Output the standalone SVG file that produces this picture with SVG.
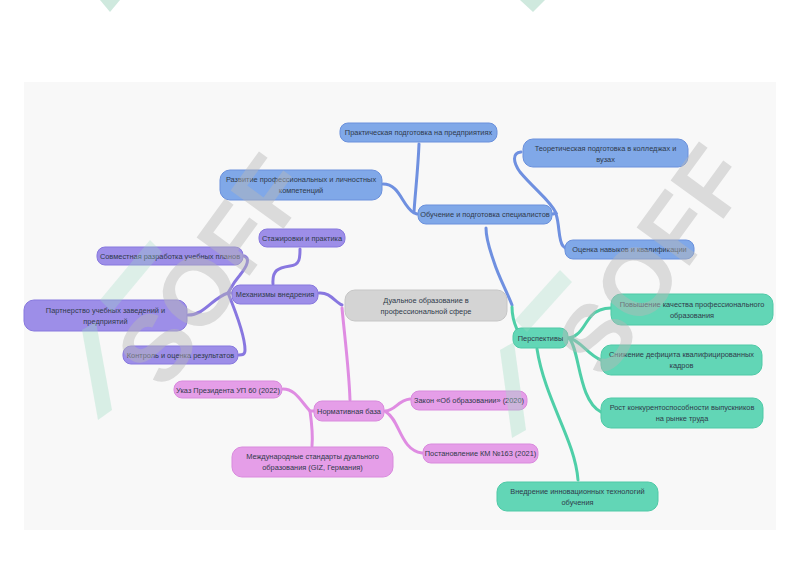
<svg xmlns="http://www.w3.org/2000/svg" width="800" height="565" viewBox="0 0 800 565">
<defs>
<style>
text{font-family:"Liberation Sans",Arial,sans-serif;font-size:7.4px;fill:#2f3a4a;text-anchor:middle}
.blue rect{fill:#80a8e8;stroke:#6a90dc;stroke-width:1}
.purple rect{fill:#9d8ee8;stroke:#8778de;stroke-width:1}
.pink rect{fill:#e59ee8;stroke:#d98add;stroke-width:1}
.green rect{fill:#62d6b6;stroke:#4ec9a6;stroke-width:1}
.center rect{fill:#d4d4d4;stroke:#c6c6c6;stroke-width:1}
.c{fill:none;stroke-width:3;stroke-linecap:round}
.cb{stroke:#6f90e0}.cp{stroke:#8877e0}.ck{stroke:#df8ce2}.cg{stroke:#4fcfa8}
.wm{font-family:"Liberation Sans",Arial,sans-serif;font-weight:bold;font-size:95px;fill:#b8b8b8;opacity:0.45;text-anchor:start}
</style>
</defs>
<rect width="800" height="565" fill="#ffffff"/>
<rect x="24" y="82" width="752" height="448" fill="#f8f8f8"/>
<polygon points="100,0 120,0 110,12" fill="#cfe9de"/>
<polygon points="520,0 545,0 533,12" fill="#cfe9de"/>

<g id="connectors">
<path class="c cb" d="M512,305 C506,290 498,275 494,262 C490,250 486,240 486,228"/>
<path class="c cb" d="M419,144 C418,170 415,195 414,212"/>
<path class="c cb" d="M383,184 C400,184 402,206 414,213 L417,214"/>
<path class="c cb" d="M521,152 C512,153 513,162 520,172 C535,190 550,200 556,213 L553,214"/>
<path class="c cb" d="M556,214 C560,226 558,240 563,246 C566,249 568,249 566,249"/>
<path class="c cg" d="M512,307 C512,320 516,327 518,332"/>
<path class="c cg" d="M569,338 C585,335 585,315 600,310 C605,308 608,308 611,308"/>
<path class="c cg" d="M569,338 C580,340 588,355 601,360"/>
<path class="c cg" d="M569,338 C580,350 578,400 601,412"/>
<path class="c cg" d="M537,349 C545,400 575,440 578,480"/>
<path class="c cp" d="M319,293 C330,292 335,302 342,305"/>
<path class="c cp" d="M244,256 C250,258 248,265 240,275 C233,283 230,290 228,293"/>
<path class="c cp" d="M188,315 C205,315 212,298 228,293 L232,293"/>
<path class="c cp" d="M228,293 C235,310 245,335 245,350 C245,355 242,355 239,355"/>
<path class="c cp" d="M273,284 C272,270 278,268 290,266 C300,265 300,258 300,249"/>
<path class="c ck" d="M342,308 C345,340 349,370 350,400"/>
<path class="c ck" d="M283,389 C295,389 300,400 310,411 L314,411"/>
<path class="c ck" d="M310,411 C312,425 313,435 312,446"/>
<path class="c ck" d="M385,411 C395,411 398,400 410,399"/>
<path class="c ck" d="M386,412 C400,420 400,450 422,453"/>
</g>

<g id="n_center" class="center"><rect x="345" y="290" width="162" height="31" rx="10"/><text x="426" y="303">Дуальное образование в</text><text x="426" y="314">профессиональной сфере</text></g>

<g id="n_obuch" class="blue"><rect x="418" y="205" width="134" height="19" rx="8"/><text x="485" y="217">Обучение и подготовка специалистов</text></g>
<g id="n_prak" class="blue"><rect x="340" y="123" width="157" height="19" rx="8"/><text x="418.5" y="135">Практическая подготовка на предприятиях</text></g>
<g id="n_teor" class="blue"><rect x="523" y="139" width="165" height="28" rx="10"/><text x="605.5" y="151">Теоретическая подготовка в колледжах и</text><text x="605.5" y="162">вузах</text></g>
<g id="n_razv" class="blue"><rect x="220" y="170" width="162" height="30" rx="10"/><text x="301" y="182">Развитие профессиональных и личностных</text><text x="301" y="193">компетенций</text></g>
<g id="n_ocen" class="blue"><rect x="565" y="240" width="129" height="19" rx="8"/><text x="629.5" y="252">Оценка навыков и квалификации</text></g>

<g id="n_mech" class="purple"><rect x="232" y="285" width="86" height="19" rx="8"/><text x="275" y="297">Механизмы внедрения</text></g>
<g id="n_stazh" class="purple"><rect x="259" y="229" width="86" height="18" rx="8"/><text x="302" y="241">Стажировки и практика</text></g>
<g id="n_sovm" class="purple"><rect x="97" y="247" width="146" height="18" rx="8"/><text x="170" y="259">Совместная разработка учебных планов</text></g>
<g id="n_partn" class="purple"><rect x="24" y="300" width="163" height="31" rx="10"/><text x="105.5" y="313">Партнерство учебных заведений и</text><text x="105.5" y="324">предприятий</text></g>
<g id="n_kontr" class="purple"><rect x="123" y="346" width="115" height="18" rx="8"/><text x="180.5" y="358">Контроль и оценка результатов</text></g>

<g id="n_norm" class="pink"><rect x="314" y="401" width="70" height="20" rx="8"/><text x="349" y="414">Нормативная база</text></g>
<g id="n_ukaz" class="pink"><rect x="174" y="381" width="108" height="17" rx="8"/><text x="228" y="392.5">Указ Президента УП 60 (2022)</text></g>
<g id="n_zakon" class="pink"><rect x="411" y="391" width="116" height="19" rx="8"/><text x="469" y="403">Закон «Об образовании» (2020)</text></g>
<g id="n_post" class="pink"><rect x="423" y="444" width="115" height="19" rx="8"/><text x="480.5" y="456">Постановление КМ №163 (2021)</text></g>
<g id="n_mezh" class="pink"><rect x="232" y="447" width="161" height="30" rx="10"/><text x="312.5" y="459">Международные стандарты дуального</text><text x="312.5" y="470">образования (GIZ, Германия)</text></g>

<g id="n_persp" class="green"><rect x="513" y="328" width="55" height="20" rx="8"/><text x="540.5" y="341">Перспективы</text></g>
<g id="n_pov" class="green"><rect x="611" y="294" width="162" height="31" rx="10"/><text x="692" y="307">Повышение качества профессионального</text><text x="692" y="318">образования</text></g>
<g id="n_sniz" class="green"><rect x="601" y="345" width="161" height="30" rx="10"/><text x="681.5" y="357">Снижение дефицита квалифицированных</text><text x="681.5" y="368">кадров</text></g>
<g id="n_rost" class="green"><rect x="601" y="398" width="162" height="30" rx="10"/><text x="682" y="410">Рост конкурентоспособности выпускников</text><text x="682" y="421">на рынке труда</text></g>
<g id="n_vnedr" class="green"><rect x="497" y="482" width="161" height="29" rx="10"/><text x="577.5" y="494">Внедрение инновационных технологий</text><text x="577.5" y="505">обучения</text></g>

<g id="watermark">
<polygon points="82,330 96,322 112,410 98,420" fill="#9fdcc3" opacity="0.35"/>
<polygon points="100,300 150,240 162,252 112,312" fill="#9fdcc3" opacity="0.3"/>
<polygon points="500,350 514,342 526,430 512,438" fill="#9fdcc3" opacity="0.35"/>
<polygon points="515,320 560,270 572,282 527,332" fill="#9fdcc3" opacity="0.3"/>
<text class="wm" transform="translate(165,392) rotate(-54)">SOFF</text>
<text class="wm" transform="translate(605,382) rotate(-54)">SOFF</text>
</g>
</svg>
